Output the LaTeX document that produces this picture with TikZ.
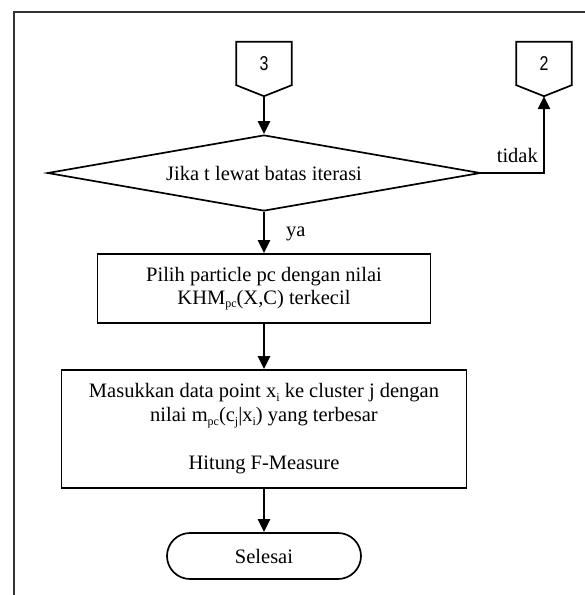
\documentclass[tikz,border=0pt]{standalone}
\usepackage{fontspec}
\setmainfont{Liberation Serif}
\newfontfamily\connfont[FakeStretch=0.8]{Liberation Sans}
\usetikzlibrary{shapes.geometric,shapes.misc,arrows.meta,calc}
\newcommand\sbs[1]{\raisebox{-0.35ex}{\fontsize{12}{12}\selectfont #1}}
\tikzset{
  every node/.style={font=\fontsize{20.5}{24}\selectfont},
  flow/.style={line width=2.6pt,-{Triangle[width=12pt,length=13pt]}},
  proc/.style={draw,line width=1.7pt,rectangle,align=center,inner sep=0pt},
  decide/.style={draw,line width=1.7pt,diamond,shape aspect=5.7,inner sep=0pt,minimum width=433pt,minimum height=76pt},
  term/.style={draw,line width=1.7pt,rounded rectangle,inner sep=0pt,minimum width=194pt,minimum height=46pt},
  conn/.style={inner sep=0pt,minimum width=55pt,minimum height=43pt,font=\connfont\fontsize{20}{20}\selectfont},
  lbl/.style={inner sep=0pt},
}
\begin{document}
\begin{tikzpicture}[x=1pt,y=-1pt]
\useasboundingbox (0,0) rectangle (585,595);
% frame
\draw[line width=2pt,black!80] (14,595) -- (14,12) -- (585,12);
% off-page connectors
\node[conn] (c3) at (264,63.5) {3};
\node[conn] (c2) at (544,63.5) {2};
\coordinate (c3tip) at ($(c3.south)+(0,11)$);
\coordinate (c2tip) at ($(c2.south)+(0,11)$);
\draw[line width=1.7pt,line join=miter] (c3.north west) -- (c3.north east) -- (c3.south east) -- (c3tip) -- (c3.south west) -- cycle;
\draw[line width=1.7pt,line join=miter] (c2.north west) -- (c2.north east) -- (c2.south east) -- (c2tip) -- (c2.south west) -- cycle;
% decision
\node[decide] (d) at (264,173) {};
\node[lbl] (dt) at (264,173) {Jika t lewat batas iterasi};
% process boxes
\node[proc,minimum width=333pt,minimum height=69pt] (p1) at (264,288.5)
  {Pilih particle pc dengan nilai\\[-1pt] KHM\sbs{pc}(X,C) terkecil};
\node[proc,minimum width=405pt,minimum height=118pt] (p2) at (264,429)
  {Masukkan data point x\sbs{i} ke cluster j dengan\\ nilai m\sbs{pc}(c\sbs{j}|x\sbs{i}) yang terbesar\\ \strut\\ Hitung F-Measure};
% terminal
\node[term] (t) at (264,556) {Selesai};
% corner of tidak branch
\coordinate (corner) at (544,173);
% connectors
\draw[flow] (c3tip) -- (d.north);
\draw[flow] (d.south) -- (p1.north);
\draw[flow] (p1.south) -- (p2.north);
\draw[flow] (p2.south) -- (t.north);
\draw[flow,line join=miter] (d.east) -- (corner) -- (c2tip);
% labels
\node[lbl,anchor=base west] (ya) at (286,236) {ya};
\node[lbl,anchor=base east] (tidak) at (538,162) {tidak};
\end{tikzpicture}
\end{document}
